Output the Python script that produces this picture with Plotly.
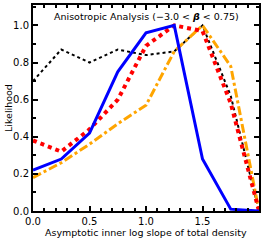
import plotly.graph_objects as go

x_vals = [0.0, 0.25, 0.5, 0.75, 1.0, 1.25, 1.5, 1.75, 2.0]
blue_solid = [0.22, 0.28, 0.42, 0.75, 0.96, 1.0, 0.28, 0.01, 0.0]
red_dotted = [0.38, 0.32, 0.44, 0.60, 0.89, 1.0, 0.97, 0.58, 0.0]
orange_dashdot = [0.18, 0.26, 0.36, 0.47, 0.57, 0.86, 1.0, 0.78, 0.0]
black_dotted = [0.70, 0.87, 0.80, 0.87, 0.84, 0.86, 1.0, 0.62, 0.0]

x_tick_vals = [0.0, 0.5, 1.0, 1.5, 2.0]
x_tick_text = ["0.0", "0.5", "1.0", "1.5", "2.0"]
y_tick_vals = [0.0, 0.2, 0.4, 0.6, 0.8, 1.0]
y_tick_text = ["0.0", "0.2", "0.4", "0.6", "0.8", "1.0"]

title_text = "Anisotropic Analysis (\u22123.0 < <b><i>\u03b2</i></b> < 0.75)"
x_label = "Asymptotic inner log slope of total density"
y_label = "Likelihood"

fig = go.Figure()
fig.add_trace(go.Scatter(x=x_vals, y=black_dotted, mode="lines",
                         line=dict(color="black", width=2, dash="dot")))
fig.add_trace(go.Scatter(x=x_vals, y=orange_dashdot, mode="lines",
                         line=dict(color="#FFA500", width=3, dash="dashdot")))
fig.add_trace(go.Scatter(x=x_vals, y=red_dotted, mode="lines",
                         line=dict(color="#FF0000", width=4, dash="dot")))
fig.add_trace(go.Scatter(x=x_vals, y=blue_solid, mode="lines",
                         line=dict(color="#0000FF", width=3)))

font_family = "DejaVu Sans, Liberation Sans, sans-serif"

fig.update_layout(
    width=266, height=242,
    margin=dict(l=33, r=7, t=3, b=31),
    paper_bgcolor="white", plot_bgcolor="white",
    showlegend=False,
    font=dict(family=font_family, size=10, color="black"),
    xaxis=dict(range=[0, 2], tickvals=x_tick_vals, ticktext=x_tick_text,
               ticks="inside", ticklen=5, tickwidth=1.5, tickcolor="black",
               showline=True, linecolor="black", linewidth=2, mirror="allticks",
               showgrid=False, zeroline=False,
               tickfont=dict(size=10),
               minor=dict(dtick=0.1, ticks="inside", ticklen=3, tickcolor="black", tickwidth=1.5, showgrid=False)),
    yaxis=dict(range=[0, 1.11], tickvals=y_tick_vals, ticktext=y_tick_text,
               ticks="inside", ticklen=5, tickwidth=1.5, tickcolor="black",
               showline=True, linecolor="black", linewidth=2, mirror="allticks",
               showgrid=False, zeroline=False,
               tickfont=dict(size=10),
               minor=dict(dtick=0.1, ticks="inside", ticklen=3, tickcolor="black", tickwidth=1.5, showgrid=False)),
    annotations=[
        dict(text=title_text, x=0.5, y=1.0, xref="paper", yref="paper",
             xanchor="center", yanchor="top", yshift=-4, showarrow=False,
             font=dict(size=9.5)),
        dict(text=x_label, x=0.5, y=0, xref="paper", yref="paper",
             xanchor="center", yanchor="middle", yshift=-21, showarrow=False,
             font=dict(size=9.5)),
        dict(text=y_label, x=0, y=0.5, xref="paper", yref="paper",
             xanchor="center", yanchor="middle", xshift=-25, textangle=-90,
             showarrow=False, font=dict(size=9.5)),
    ],
)

fig.write_html("out.html", config={"displayModeBar": False},
               post_script="document.body.style.margin='0px';document.body.style.padding='0px';")
